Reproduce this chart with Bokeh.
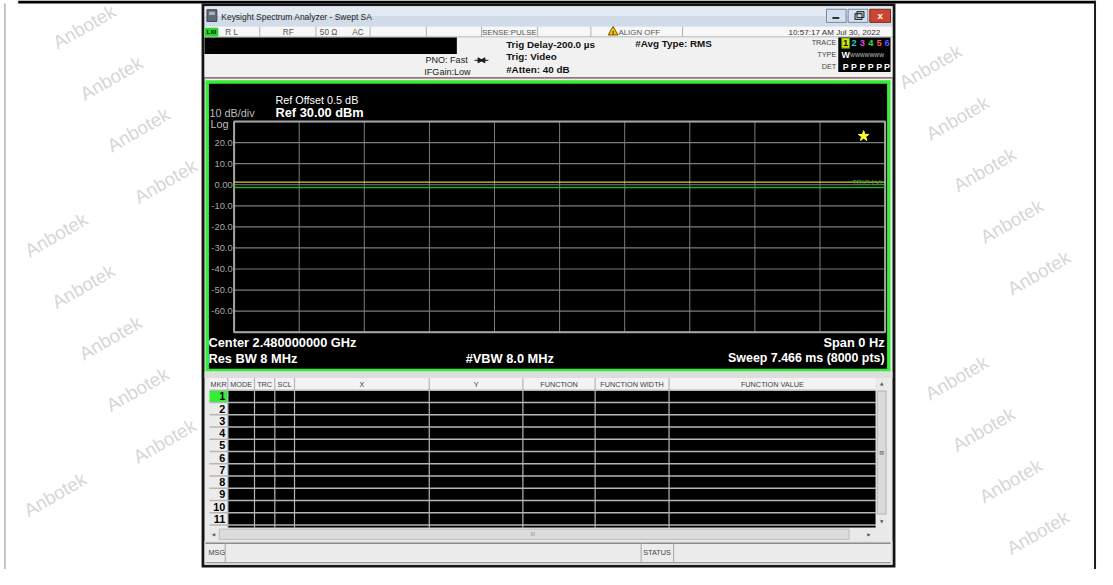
import math
from bokeh.plotting import figure
from bokeh.models import Range1d
from bokeh.core.properties import value
from bokeh.embed import file_html
from bokeh.resources import INLINE

# ---------------- data ----------------
ref_level_dbm = 30.0
db_per_div = 10.0
n_y_div = 10
sweep_ms = 7.466
n_x_div = 10
ytick_values = [20, 10, 0, -10, -20, -30, -40, -50, -60]
ytick_labels = ["20.0", "10.0", "0.00", "-10.0", "-20.0", "-30.0", "-40.0", "-50.0", "-60.0"]
trace_ms = [0.0, 7.466]
trace_dbm = [1.3, 1.3]
trig_ms = [0.0, 7.466]
trig_dbm = [-1.3, -1.3]
star_ms = [7.22]
star_dbm = [23.1]
marker_rows = ["1", "2", "3", "4", "5", "6", "7", "8", "9", "10", "11"]
table_headers = ["MKR", "MODE", "TRC", "SCL", "X", "Y", "FUNCTION", "FUNCTION WIDTH", "FUNCTION VALUE"]
trace_numbers = ["1", "2", "3", "4", "5", "6"]
trace_num_colors = ["#101010", "#22d0d0", "#e040e0", "#33e033", "#ff5a5a", "#5a5aff"]

# ---------------- layout (pixels of the 1113x585 picture) ----------------
IMG_W, IMG_H = 1113, 585
CW, CH = 1097, 569                       # canvas size that fits the window
FS = CW / IMG_W                          # font scale
GL, GR, GT, GB = 237.0, 897.5, 124.5, 341.0     # graticule box
SANS = "Liberation Sans"
SYM = "DejaVu Sans"

p = figure(width=CW, height=CH,
           x_range=Range1d(0, IMG_W), y_range=Range1d(IMG_H, 0),
           output_backend="svg", toolbar_location=None, min_border=0,
           x_axis_location=None, y_axis_location=None)
p.xgrid.visible = False
p.ygrid.visible = False
p.outline_line_color = None
p.background_fill_color = "white"
p.border_fill_color = "white"

# data ranges mapped onto the graticule
bottom_level = ref_level_dbm - db_per_div * n_y_div
px_per_ms = (GR - GL) / sweep_ms
px_per_db = (GB - GT) / (ref_level_dbm - bottom_level)
p.extra_x_ranges = {"ms": Range1d((0 - GL) / px_per_ms, (IMG_W - GL) / px_per_ms)}
p.extra_y_ranges = {"dbm": Range1d(bottom_level - (IMG_H - GB) / px_per_db,
                                   ref_level_dbm + GT / px_per_db)}
D = dict(x_range_name="ms", y_range_name="dbm")


def fs(size):
    return f"{size * FS:.2f}px"


def box(l, r, t, b, fill, line=None, lw=1.0):
    p.quad(left=[l], right=[r], top=[t], bottom=[b], fill_color=fill,
           line_color=line, line_width=lw)


def seg(x0, y0, x1, y1, color, lw=1.0):
    p.segment(x0=[x0], y0=[y0], x1=[x1], y1=[y1], line_color=color, line_width=lw)


def txt(x, y, s, size, color, align="left", bold=False, font=SANS, **kw):
    p.text(x=[x], y=[y], text=[s], text_font=value(font), text_font_size=fs(size),
           text_color=color, text_align=align, text_baseline="middle",
           text_font_style="bold" if bold else "normal", **kw)


# ---------------- watermark (only whole words that stay visible) ----------------
wx, wy, wt = [], [], []
HW, HH = 35, 25
for n in range(-3, 9):
    for m in range(-4, 13):
        x = 85 + n * 138.5 + m * 27.5
        y = 27 - n * 2 + m * 53
        inside = (HW + 6 < x < IMG_W - HW - 6) and (HH - 2 < y < IMG_H - HH - 2)
        clear_of_window = (x + HW < 204) or (x - HW > 908)
        if inside and clear_of_window:
            wx.append(x); wy.append(y); wt.append("Anbotek")
p.text(x=wx, y=wy, text=wt, text_font=value(SANS), text_font_size=fs(19),
       text_color="#d6d6d6", text_align="center", text_baseline="middle",
       angle=math.pi / 6)

# page frame
box(18, 1111, 0, 3, "#000000")
box(4, 5, 3, 585, "#8a8a8a")
box(1109.5, 1111.5, 0, 585, "#1a1a1a")

# ---------------- window ----------------
box(204, 908, 3, 583, "#141414")
box(207, 905, 6, 580, "#ebebeb")
# title bar
box(207, 905, 6, 16, "#e2e9f2")
box(207, 905, 16, 27, "#d2dce8")
box(209.5, 219.5, 9.5, 21.5, "#5e6876", "#39414c")
box(211.5, 217.5, 11.5, 15, "#aab4c2")
txt(224, 16.5, "Keysight Spectrum Analyzer - Swept SA", 8.6, "#1b1b1b")
box(838, 858, 9, 22.5, "#d3e0ef", "#7689a0")
seg(844, 18, 851, 18, "#333333", 2)
box(860, 880, 9, 22.5, "#d3e0ef", "#7689a0")
box(867, 874, 13.5, 19.5, None, "#333333", 1.2)
box(869, 876, 11.5, 17.5, None, "#333333", 1.2)
box(882, 903, 9, 22.5, "#cc4530", "#7d2a1e")
txt(892.5, 15.5, "x", 10, "#ffffff", "center", True)

# status row
box(207, 905, 27, 37.5, "#f7f7f7")
seg(207, 37.5, 905, 37.5, "#a8a8a8", 1)
for sx in [263, 320, 375, 432, 488, 545, 599, 692]:
    seg(sx, 27, sx, 37.5, "#b2b2b2", 1)
box(207, 221, 28, 37, "#26d626")
txt(214, 32.5, "LXI", 6, "#000000", "center", True)
txt(228, 32.5, "R L", 8.3, "#555555")
txt(292, 32.5, "RF", 8.3, "#555555", "center")
txt(324, 32.5, "50 Ω", 8.3, "#555555")
txt(357, 32.5, "AC", 8.3, "#555555")
txt(488.5, 32.5, "SENSE:PULSE", 8.0, "#555555")
p.scatter(x=[621.5], y=[32.5], marker="triangle", size=10 * FS, fill_color="#f2c200",
          line_color="#7a5a00")
txt(621.5, 33.5, "!", 6, "#000000", "center", True)
txt(627, 32.5, "ALIGN OFF", 8.0, "#555555")
txt(893, 32.5, "10:57:17 AM Jul 30, 2022", 8.2, "#333333", "right")

# info row
box(207, 905, 38, 79, "#f1f1f1")
box(207, 463, 38, 55, "#000000")
seg(207, 79.5, 905, 79.5, "#7a4848", 1.2)
txt(474, 61.5, "PNO: Fast", 9.2, "#1a1a1a", "right")
txt(477, 73.5, "IFGain:Low", 9.2, "#1a1a1a", "right")
seg(481, 61.5, 495, 61.5, "#1a1a1a", 1)
p.scatter(x=[486, 490], y=[61.5, 61.5], marker="triangle", size=5,
          angle=[-math.pi / 2, math.pi / 2], fill_color="#1a1a1a", line_color="#1a1a1a")
txt(513, 45, "Trig Delay-200.0 µs", 10, "#111111", bold=True)
txt(513, 58, "Trig: Video", 10, "#111111", bold=True)
txt(513, 71, "#Atten: 40 dB", 10, "#111111", bold=True)
txt(644, 44, "#Avg Type: RMS", 10, "#111111", bold=True)
txt(848, 43.5, "TRACE", 7.4, "#454545", "right")
txt(848, 56, "TYPE", 7.4, "#454545", "right")
txt(848, 68, "DET", 7.4, "#454545", "right")
box(850, 903, 38, 73.5, "#000000")
tx = [857.5, 866, 874.5, 883, 891.5, 899.5]
box(853.5, 861.5, 38.5, 49, "#e2e200", "#2c9a2c", 1)
for xx, s, c in zip(tx, trace_numbers, trace_num_colors):
    txt(xx, 44, s, 9.5, c, "center", True)
txt(857.5, 56.5, "W", 9, "#ffffff", "center", True)
txt(862, 56.5, "WWWWWWW", 5.2, "#c8c8c8")
for xx in tx:
    txt(xx, 68.5, "P", 9, "#ffffff", "center", True)

# ---------------- measurement panel ----------------
box(208, 903, 82, 381.5, "#33ec33")
box(211.5, 899.5, 85.5, 378.5, "#000000")

xs = [i * sweep_ms / n_x_div for i in range(n_x_div + 1)]
levels = [ref_level_dbm - db_per_div * i for i in range(n_y_div + 1)]
p.segment(x0=xs, y0=[bottom_level] * len(xs), x1=xs, y1=[ref_level_dbm] * len(xs),
          line_color="#7c7c7c", line_width=1, **D)
p.segment(x0=[0.0] * len(levels), y0=levels, x1=[sweep_ms] * len(levels), y1=levels,
          line_color="#7c7c7c", line_width=1.2, **D)
p.quad(left=[0.0], right=[sweep_ms], top=[ref_level_dbm], bottom=[bottom_level],
       fill_color=None, line_color="#a4a4a4", line_width=2, **D)

p.text(x=[235.5] * len(ytick_values), y=ytick_values, text=ytick_labels,
       text_font=value(SANS), text_font_size=fs(9.5), text_color="#a8a8a8",
       text_align="right", text_baseline="middle", y_range_name="dbm")

p.line(trig_ms, trig_dbm, line_color="#2ea52e", line_width=1.6, **D)
p.line(trace_ms, trace_dbm, line_color="#d0cf3a", line_width=1.3, **D)
p.text(x=[trig_ms[-1]], y=[trig_dbm[-1]], text=["TRIG LVL"], text_font=value(SANS),
       text_font_size=fs(7.4), text_color="#34a834", text_align="right",
       text_baseline="bottom", x_offset=-1, y_offset=-1, **D)
p.scatter(x=star_ms, y=star_dbm, marker="star", size=11, fill_color="#ffff33",
          line_color="#ffff33", **D)

txt(212, 115.5, "10 dB/div", 11, "#bdbdbd")
txt(213, 126.5, "Log", 11, "#bdbdbd")
txt(279, 102, "Ref Offset 0.5 dB", 11, "#ffffff")
txt(279, 115, f"Ref {ref_level_dbm:.2f} dBm", 13, "#ffffff", bold=True)
txt(211, 352, "Center 2.480000000 GHz", 13, "#ffffff", bold=True)
txt(211, 368, "Res BW 8 MHz", 13, "#ffffff", bold=True)
txt(472, 368, "#VBW 8.0 MHz", 13, "#ffffff", bold=True)
txt(897, 352, "Span 0 Hz", 13, "#ffffff", "right", True)
txt(897, 368, f"Sweep {sweep_ms} ms (8000 pts)", 12.6, "#ffffff", "right", True)

# ---------------- marker table ----------------
box(207, 905, 381.5, 388, "#dedede")
TL, TR, HT, HB = 212.0, 888.0, 388.0, 400.7
ROW_H = 12.6
BODY_B = 542.0
col_x = [TL, 230.7, 257.7, 278.3, 298.3, 435.0, 530.0, 603.3, 678.3, TR]
box(TL, TR, HT, HB, "#f3f3f3")
box(col_x[1], TR, HB, BODY_B, "#000000")
box(TL, col_x[1], HB, BODY_B, "#ececec")
box(TL, col_x[1], HB + 0.6, HB + ROW_H - 0.6, "#33ee33")
for i in range(len(marker_rows) + 1):
    yy = HB + ROW_H * i
    seg(TL, yy, TR, yy, "#b6b6b6", 1.4)
for cx in col_x[1:-1]:
    seg(cx, HT, cx, BODY_B, "#b6b6b6", 1.2)
for i, h in enumerate(table_headers):
    txt((col_x[i] + col_x[i + 1]) / 2, 394.5, h, 7.4, "#404040", "center")
for i, s in enumerate(marker_rows):
    txt(228, HB + ROW_H * (i + 0.5), s, 11, "#000000", "right", True)

# vertical scrollbar
box(TR, 900, HT, BODY_B, "#e9e9e9")
box(889.5, 898.5, 401.5, 528, "#dadada", "#b4b4b4")
txt(894, 394, "▲", 4.5, "#555555", "center", font=SYM)
txt(894, 535.5, "▼", 4.5, "#555555", "center", font=SYM)
txt(894, 465, "≡", 7, "#707070", "center", font=SYM)
# horizontal scrollbar
box(TL, 900, BODY_B, 555.5, "#e9e9e9")
box(222, 861, 543.5, 554, "#dcdcdc", "#bdbdbd")
txt(216, 549, "◀", 4.5, "#555555", "center", font=SYM)
txt(881, 549, "▶", 4.5, "#555555", "center", font=SYM)
txt(540, 549, "III", 5, "#8a8a8a", "center")

# message bar
box(207, 905, 555.5, 580, "#e4e4e4")
box(208, 903, 558, 578, "#ececec")
seg(208, 558, 903, 558, "#8c8c8c", 1.4)
seg(208, 578, 903, 578, "#9a9a9a", 1.2)
for sx in [228, 650, 683]:
    seg(sx, 558, sx, 578, "#a6a6a6", 1)
txt(211, 568, "MSG", 7.4, "#404040")
txt(652, 568, "STATUS", 7.4, "#404040")

open("out.html", "w").write(file_html(p, INLINE))
